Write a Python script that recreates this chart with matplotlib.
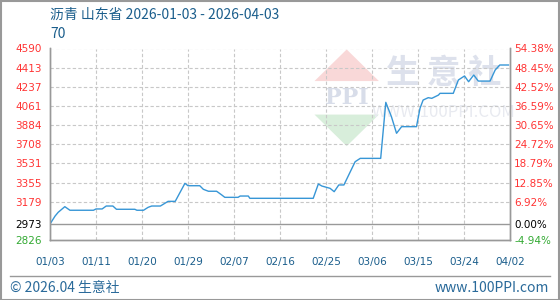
import matplotlib
matplotlib.use("Agg")
import numpy as np
from matplotlib import pyplot as plt
from matplotlib.patches import Polygon, Rectangle
from matplotlib.lines import Line2D

plt.rcParams['font.family'] = ['Noto Sans CJK SC', 'DejaVu Sans']

# price of asphalt, Shandong (day index from 01/03)
days = [0, 1, 1.6, 2.9, 3.9, 8.5, 9, 10.2, 11, 12.3, 13, 16.6, 17, 18.3, 19.2,
        19.9, 21.6, 23.1, 24.5, 26.4, 27, 29.3, 30, 31, 32.6, 33.6, 34.2, 36.8,
        37.2, 38.8, 39.1, 51.5, 52.5, 53.2, 54.8, 55.6, 56.5, 57.5, 59.7, 60.7,
        64.7, 65.7, 66.8, 67.8, 68.8, 71.7, 72.4, 73, 74, 74.7, 76, 76.3, 78.9,
        79.9, 81.1, 81.9, 82.9, 83.8, 86.1, 87.1, 88, 89.7]
prices = [2973, 3047, 3081, 3133, 3100, 3100, 3112, 3112, 3139, 3139, 3109, 3109,
          3100, 3100, 3127, 3139, 3139, 3182, 3182, 3348, 3326, 3326, 3293, 3275,
          3275, 3241, 3219, 3219, 3231, 3231, 3210, 3210, 3342, 3323, 3302, 3271,
          3333, 3333, 3547, 3578, 3578, 4094, 3962, 3809, 3870, 3870, 4040, 4115,
          4137, 4131, 4161, 4177, 4177, 4300, 4337, 4284, 4346, 4290, 4290, 4392,
          4438, 4438]

base = 2973
y_ticks = [2826, 2973, 3179, 3355, 3531, 3708, 3884, 4061, 4237, 4413, 4590]
pct_labels = ["-4.94%", "0.00%", "6.92%", "12.85%", "18.79%", "24.72%",
              "30.65%", "36.59%", "42.52%", "48.45%", "54.38%"]
x_ticks = [0, 9, 18, 27, 36, 45, 54, 63, 72, 81, 90]
x_labels = ["01/03", "01/11", "01/20", "01/29", "02/07", "02/16", "02/25",
            "03/06", "03/15", "03/24", "04/02"]

RED = "#ff3333"
GREEN = "#33aa33"
BLUE_TXT = "#1b5e8c"
GRID = "#c8c8c8"
SPINE = "#999999"


def tick_color(v):
    if v > base:
        return RED
    if v < base:
        return GREEN
    return "black"


fig = plt.figure(figsize=(5.6, 3.0), dpi=100)
ax = fig.add_axes([50 / 560, 60 / 300, 460 / 560, 191.5 / 300])

ax.set_xlim(0, 90)
ax.set_ylim(2826, 4590)

# watermark
ax.add_patch(Polygon([[0.575, 0.83], [0.715, 0.83], [0.645, 0.995]],
                     transform=ax.transAxes, closed=True, fc="#f9d8d8", ec="none", zorder=0))
ax.add_patch(Polygon([[0.575, 0.655], [0.715, 0.655], [0.645, 0.49]],
                     transform=ax.transAxes, closed=True, fc="#d8eedb", ec="none", zorder=0))
ax.text(0.645, 0.742, "PPI", transform=ax.transAxes, ha="center", va="center",
        fontsize=16, family="DejaVu Serif", fontweight="bold", color="#d8dde9", zorder=0)
ax.text(0.855, 0.87, "生 意 社", transform=ax.transAxes, ha="center", va="center",
        fontsize=24, color="#dde1ec", fontweight="bold", zorder=0)
ax.text(0.855, 0.665, "WWW.100PPI.COM", transform=ax.transAxes, ha="center", va="center",
        fontsize=12, color="#e8eaf0", zorder=0)

for xt in x_ticks[1:-1]:
    ax.axvline(xt, color=GRID, lw=0.8, ls=(0, (3, 2)), zorder=1)
for yt in y_ticks[2:]:
    ax.axhline(yt, color=GRID, lw=0.8, ls=(0, (3, 2)), zorder=1)
ax.axhline(base, color=SPINE, lw=1.0, zorder=1)

ax.plot(days, prices, color="#3796d6", lw=1.0, zorder=3)

ax.set_xticks(x_ticks)
ax.set_xticklabels(x_labels, fontsize=7.5, color=BLUE_TXT, family="DejaVu Sans")
ax.set_yticks(y_ticks)
ax.set_yticklabels([str(v) for v in y_ticks], fontsize=7.5, family="DejaVu Sans")
for lab, v in zip(ax.get_yticklabels(), y_ticks):
    lab.set_color(tick_color(v))
ax.tick_params(length=0, pad=6)
ax.tick_params(axis="x", pad=12)

ax2 = ax.twinx()
ax2.set_ylim(ax.get_ylim())
ax2.set_yticks(y_ticks)
ax2.set_yticklabels(pct_labels, fontsize=7.5, family="DejaVu Sans")
for lab, v in zip(ax2.get_yticklabels(), y_ticks):
    lab.set_color(tick_color(v))
ax2.tick_params(length=0, pad=3)

for a in (ax, ax2):
    a.spines["top"].set_visible(False)
    for s in ("left", "right", "bottom"):
        a.spines[s].set_color(SPINE)
        a.spines[s].set_linewidth(1.0)

# header / footer
fig.text(50 / 560, 1 - 15 / 300, "沥青 山东省 2026-01-03 - 2026-04-03",
         fontsize=10, color=BLUE_TXT, va="center", ha="left")
fig.text(50 / 560, 1 - 34 / 300, "70", fontsize=10, color=BLUE_TXT, va="center", ha="left")
fig.add_artist(Line2D([10 / 560, 550 / 560], [1 - 276 / 300] * 2,
                      transform=fig.transFigure, color=SPINE, lw=1.0))
fig.text(10 / 560, 1 - 288 / 300, "© 2026.04 生意社", fontsize=10,
         color="#2a6a9a", va="center", ha="left")
fig.text(549 / 560, 1 - 288 / 300, "www.100PPI.com", fontsize=10,
         color="#2a6a9a", va="center", ha="right")
fig.add_artist(Rectangle((0.5 / 560, 0.5 / 300), 558.5 / 560, 298.5 / 300,
                         transform=fig.transFigure, fill=False, ec=SPINE, lw=1.5))

fig.savefig("out.png", dpi=100)
